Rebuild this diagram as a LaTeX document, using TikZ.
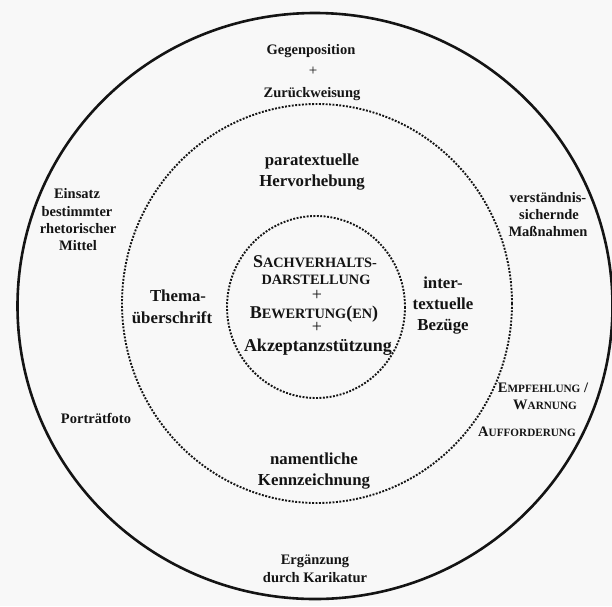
\documentclass[tikz,border=0pt]{standalone}
\usepackage{fontspec}
\setmainfont{Liberation Serif}
\definecolor{bg}{RGB}{248,248,248}
\definecolor{ink}{RGB}{20,20,20}
\newcommand\scA[1]{{\fontsize{11.2}{11.2}\selectfont #1}}
\newcommand\scB[1]{{\fontsize{14.3}{14.3}\selectfont #1}}
\tikzset{
  base/.style={inner sep=0pt, anchor=base, text=ink},
  outertxt/.style={base, font=\fontsize{14.5}{17}\selectfont\bfseries},
  midtxt/.style={base, font=\fontsize{16.8}{18.5}\selectfont\bfseries},
  coretxt/.style={base, font=\fontsize{18}{18}\selectfont\bfseries},
  plussign/.style={inner sep=0pt, anchor=center, text=ink, text height=9pt, text depth=0pt},
  solidring/.style={draw=ink, line width=2.6pt},
  dotring/.style={draw=ink, line width=1.9pt, dash pattern=on 1.9pt off 1.5pt},
}
\begin{document}
\begin{tikzpicture}[x=1pt,y=-1pt]
\useasboundingbox[fill=bg] (0,0) rectangle (612,606);
% rings
\draw[solidring] (315,306) ellipse [x radius=297.5, y radius=293];
\draw[dotring] (317,303.5) ellipse [x radius=195, y radius=199.5];
\draw[dotring] (316,307) ellipse [x radius=89, y radius=91];
% outer ring texts
\node[outertxt] (gegen) at (311,54) {Gegenposition};
\node[plussign, font=\fontsize{15}{17}\selectfont] (plus1) at (313,71) {+};
\node[outertxt] (zur) at (312,97) {Zurückweisung};
\node[outertxt] (einsatz) at (77,198) {Einsatz};
\node[outertxt] (best) at (77,216) {bestimmter};
\node[outertxt] (rhet) at (78,233) {rhetorischer};
\node[outertxt] (mittel) at (78,250) {Mittel};
\node[outertxt] (portrait) at (96,423) {Porträtfoto};
\node[outertxt] (verst) at (548,202) {verständnis-};
\node[outertxt] (sich) at (549,219) {sichernde};
\node[outertxt] (mass) at (548,236) {Maßnahmen};
\node[outertxt] (empf) at (543,392) {E\scA{MPFEHLUNG} /};
\node[outertxt] (warn) at (545,409) {W\scA{ARNUNG}};
\node[outertxt] (auff) at (527,436) {A\scA{UFFORDERUNG}};
\node[outertxt] (erg) at (315,564) {Ergänzung};
\node[outertxt] (durch) at (315,582) {durch Karikatur};
% middle ring texts
\node[midtxt] (para) at (312,165) {paratextuelle};
\node[midtxt] (herv) at (312,186) {Hervorhebung};
\node[midtxt] (thema) at (178,301) {Thema-};
\node[midtxt] (ueber) at (172,323) {überschrift};
\node[midtxt] (inter) at (443,288) {inter-};
\node[midtxt] (textu) at (443,309) {textuelle};
\node[midtxt] (bez) at (443,330) {Bezüge};
\node[midtxt] (nament) at (314,464) {namentliche};
\node[midtxt] (kenn) at (314,485) {Kennzeichnung};
% core texts
\node[coretxt] (sach) at (315,267) {S\scB{ACHVERHALTS-}};
\node[coretxt] (dar) at (316,284) {\scB{DARSTELLUNG}};
\node[plussign, font=\fontsize{18}{18}\selectfont] (plus2) at (317,296) {+};
\node[coretxt] (bew) at (314,318) {B\scB{EWERTUNG}(\scB{EN})};
\node[plussign, font=\fontsize{18}{18}\selectfont] (plus3) at (317,328) {+};
\node[coretxt] (akz) at (318,351) {Akzeptanzstützung};
\end{tikzpicture}
\end{document}
